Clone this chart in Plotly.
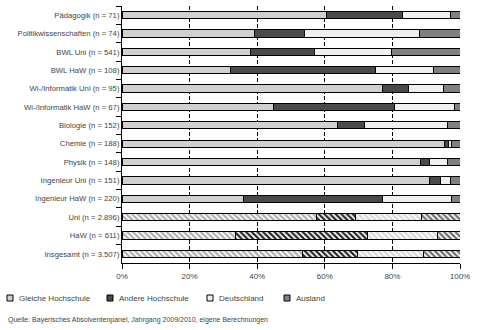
import plotly.graph_objects as go

categories = [
    "Pädagogik (n = 71)", "Politikwissenschaften (n = 74)", "BWL Uni (n = 541)",
    "BWL HaW (n = 108)", "Wi-/Informatik Uni (n = 95)", "Wi-/Informatik HaW (n = 67)",
    "Biologie (n = 152)", "Chemie (n = 188)", "Physik (n = 148)",
    "Ingenieur Uni (n = 151)", "Ingenieur HaW (n = 220)", "Uni (n = 2.896)",
    "HaW (n = 611)", "Insgesamt (n = 3.507)",
]
gleiche = [60.4, 39.2, 38.0, 32.0, 77.0, 44.8, 63.7, 95.3, 88.2, 90.9, 35.9, 57.6, 33.5, 53.3]
andere = [22.5, 14.7, 18.9, 42.9, 7.9, 35.7, 7.9, 1.2, 2.9, 3.2, 41.1, 11.5, 39.1, 16.4]
deutschland = [14.4, 34.0, 22.7, 17.4, 10.1, 18.0, 24.6, 1.0, 5.1, 3.2, 20.6, 19.4, 20.6, 19.4]
ausland = [2.7, 12.1, 20.4, 7.7, 5.0, 1.5, 3.8, 2.5, 3.8, 2.7, 2.4, 11.5, 6.8, 10.9]
hatched = [False] * 11 + [True] * 3

tick_values = [0, 20, 40, 60, 80, 100]
tick_labels = ["0%", "20%", "40%", "60%", "80%", "100%"]

series_names = ["Gleiche Hochschule", "Andere Hochschule", "Deutschland", "Ausland"]
series_values = [gleiche, andere, deutschland, ausland]
fill_colors = ["#d0d0d0", "#4a4a4a", "#efefef", "#808080"]
stripe_colors = ["#b0b0b0", "#2a2a2a", "#d8d8d8", "#707070"]

TEXT = "#444444"
FONT = "Liberation Sans, Arial, sans-serif"

fig = go.Figure()
for name, vals, fc, sc in zip(series_names, series_values, fill_colors, stripe_colors):
    fig.add_trace(go.Bar(
        y=categories, x=vals, orientation="h", name=name, showlegend=False,
        width=0.4,
        marker=dict(
            color=fc,
            line=dict(color="black", width=1),
            pattern=dict(
                shape=["\\" if h else "" for h in hatched],
                fgcolor=[sc if h else fc for h in hatched],
                bgcolor=["white" if h else fc for h in hatched],
                size=4, solidity=0.55, fillmode="replace",
            ),
        ),
        hoverinfo="skip",
    ))

# manual legend
L, R = 122, 460
def px2paper(px):
    return (px - L) / (R - L)
PT, PB = 6, 263
def py2paper(py):
    return (PB - py) / (PB - PT)

legend_x = [7, 107, 207, 284]
for name, fc, lx in zip(series_names, fill_colors, legend_x):
    fig.add_shape(type="rect", xref="paper", yref="paper",
                  x0=px2paper(lx), x1=px2paper(lx + 6),
                  y0=py2paper(301), y1=py2paper(295),
                  fillcolor=fc, line=dict(color="black", width=1))
    fig.add_annotation(xref="paper", yref="paper", x=px2paper(lx + 10), y=py2paper(298),
                       text=name, showarrow=False, xanchor="left", yanchor="middle",
                       font=dict(size=8, color=TEXT, family=FONT))

fig.add_annotation(xref="paper", yref="paper", x=px2paper(6), y=py2paper(320),
                   text="Quelle: Bayerisches Absolventenpanel, Jahrgang 2009/2010, eigene Berechnungen",
                   showarrow=False, xanchor="left", yanchor="middle",
                   font=dict(size=7, color=TEXT, family=FONT))

fig.update_layout(
    barmode="stack",
    width=477, height=330,
    margin=dict(l=L, r=477 - R, t=PT, b=330 - PB),
    paper_bgcolor="white", plot_bgcolor="white",
    font=dict(family=FONT, size=8, color=TEXT),
    bargap=0.6,
)
fig.update_xaxes(
    range=[0, 100], tickmode="array", tickvals=tick_values, ticktext=tick_labels,
    showgrid=True, gridcolor="black", gridwidth=1, griddash="4px,2px",
    zeroline=False, showline=True, linecolor="black", linewidth=1,
    ticks="outside", ticklen=5, tickcolor="black",
    tickfont=dict(size=8, color=TEXT, family=FONT),
)
fig.update_yaxes(
    categoryorder="array", categoryarray=categories, autorange="reversed",
    showgrid=False, zeroline=False, showline=True, linecolor="black", linewidth=1,
    ticks="outside", ticklen=5, tickcolor="black", tickson="boundaries",
    tickfont=dict(size=7.7, color=TEXT, family=FONT),
)

fig.write_html("out.html")
